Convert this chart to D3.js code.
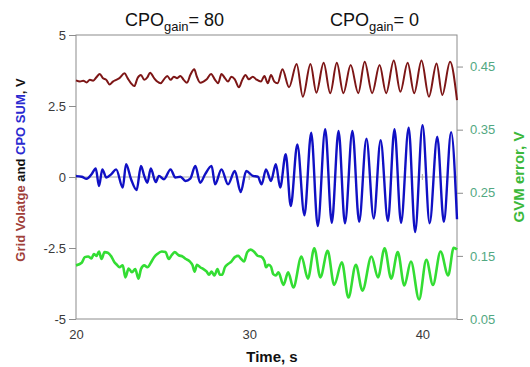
<!DOCTYPE html>
<html>
<head>
<meta charset="utf-8">
<script src="https://cdn.jsdelivr.net/npm/d3@7/dist/d3.min.js"></script>
<style>
  body { margin: 0; background: #fff; }
  svg { display: block; font-family: Arial, "Liberation Sans", sans-serif; }
</style>
</head>
<body>
<figure id="chart" style="margin:0"></figure>
<script>
// axis ticks
const timeTicks = [20, 30, 40]
const voltTicks = [-5, -2.5, 0, 2.5, 5]
const errorTicks = [0.05, 0.15, 0.25, 0.35, 0.45]

// [time s, grid voltage V]
const gridVoltage = [
  [20.00, 3.40], [20.23, 3.36], [20.42, 3.39], [20.61, 3.33], [20.80, 3.42], [20.99, 3.39],
  [21.18, 3.51], [21.37, 3.63], [21.56, 3.48], [21.75, 3.42], [21.94, 3.26], [22.13, 3.36],
  [22.32, 3.42], [22.51, 3.48], [22.80, 3.65], [22.98, 3.48], [23.18, 3.30], [23.37, 3.20],
  [23.55, 3.48], [23.75, 3.59], [23.94, 3.42], [24.12, 3.51], [24.28, 3.67], [24.51, 3.48],
  [24.69, 3.36], [24.89, 3.30], [25.08, 3.44], [25.27, 3.56], [25.46, 3.42], [25.65, 3.53],
  [25.84, 3.48], [26.03, 3.56], [26.22, 3.42], [26.41, 3.32], [26.60, 3.59], [26.83, 3.79],
  [26.98, 3.53], [27.17, 3.32], [27.36, 3.36], [27.55, 3.44], [27.80, 3.63], [28.03, 3.42],
  [28.21, 3.30], [28.40, 3.63], [28.60, 3.48], [28.78, 3.36], [28.97, 3.53], [29.17, 3.44],
  [29.41, 3.16], [29.60, 3.42], [29.79, 3.59], [29.98, 3.44], [30.21, 3.53], [30.40, 3.44],
  [30.68, 3.36], [30.88, 3.56], [31.07, 3.30], [31.26, 3.59], [31.45, 3.36], [31.64, 3.30],
  [31.92, 3.79], [32.30, 3.16], [32.74, 3.98], [33.10, 2.83], [33.54, 3.98], [33.88, 2.97],
  [34.30, 4.02], [34.68, 2.95], [35.06, 4.02], [35.44, 2.95], [35.86, 3.94], [36.30, 2.95],
  [36.67, 4.06], [37.10, 2.95], [37.53, 3.94], [37.91, 2.95], [38.35, 4.10], [38.73, 3.00],
  [39.15, 4.02], [39.53, 2.95], [39.95, 4.10], [40.38, 2.83], [40.82, 4.00], [41.15, 2.89],
  [41.60, 4.06], [42.00, 2.71]
]

// [time s, CPO sum V]
const cpoSum = [
  [20.00, 0.03], [20.33, 0.01], [20.61, -0.06], [20.90, 0.10], [21.14, 0.30], [21.33, -0.32],
  [21.52, 0.27], [21.75, -0.02], [22.04, 0.10], [22.32, 0.27], [22.70, -0.37], [22.89, 0.45],
  [23.18, -0.08], [23.50, -0.46], [23.75, 0.39], [23.94, 0.04], [24.12, -0.20], [24.32, 0.30],
  [24.60, -0.18], [24.79, 0.04], [25.08, -0.08], [25.46, 0.27], [25.74, -0.02], [26.03, 0.01],
  [26.32, -0.14], [26.60, -0.06], [26.89, 0.39], [27.17, -0.20], [27.46, 0.10], [27.83, 0.39],
  [28.03, -0.26], [28.40, 0.27], [28.78, -0.26], [29.17, 0.21], [29.51, -0.53], [29.83, 0.21],
  [30.21, 0.04], [30.50, 0.01], [30.72, -0.26], [30.97, 0.27], [31.26, -0.14], [31.54, 0.45],
  [31.79, -0.37], [32.11, 0.80], [32.40, -1.02], [32.78, 1.15], [33.19, -1.35], [33.58, 1.56],
  [33.96, -1.73], [34.39, 1.68], [34.77, -1.61], [35.16, 1.62], [35.53, -1.63], [35.96, 1.62],
  [36.35, -1.58], [36.77, 1.35], [37.19, -1.46], [37.59, 1.30], [38.01, -1.55], [38.39, 1.68],
  [38.77, -1.61], [39.21, 1.74], [39.58, -1.94], [40.01, 1.82], [40.42, -1.63], [40.86, 1.42],
  [41.24, -1.58], [41.66, 1.58], [42.00, -1.49]
]

// [time s, GVM error V] (right axis)
const gvmError = [
  [20.00, 0.135], [20.33, 0.139], [20.51, 0.148], [20.70, 0.149], [20.90, 0.146], [21.03, 0.153],
  [21.18, 0.150], [21.33, 0.157], [21.47, 0.145], [21.65, 0.156], [21.84, 0.155], [22.04, 0.149],
  [22.22, 0.140], [22.36, 0.136], [22.51, 0.132], [22.70, 0.135], [22.85, 0.116], [23.04, 0.130],
  [23.23, 0.124], [23.42, 0.129], [23.61, 0.114], [23.75, 0.129], [23.94, 0.135], [24.12, 0.132],
  [24.32, 0.139], [24.51, 0.148], [24.69, 0.153], [24.95, 0.157], [25.17, 0.156], [25.36, 0.145],
  [25.52, 0.151], [25.70, 0.156], [25.93, 0.151], [26.16, 0.149], [26.35, 0.145], [26.54, 0.142],
  [26.73, 0.135], [26.85, 0.125], [26.98, 0.136], [27.17, 0.132], [27.36, 0.129], [27.55, 0.125],
  [27.68, 0.120], [27.83, 0.125], [27.99, 0.119], [28.17, 0.129], [28.31, 0.120], [28.44, 0.120],
  [28.60, 0.132], [28.78, 0.137], [28.97, 0.141], [29.17, 0.148], [29.36, 0.150], [29.54, 0.145],
  [29.70, 0.141], [29.89, 0.156], [30.08, 0.160], [30.27, 0.157], [30.50, 0.150], [30.68, 0.149],
  [30.88, 0.142], [30.97, 0.132], [31.11, 0.136], [31.26, 0.133], [31.39, 0.121], [31.54, 0.119],
  [31.69, 0.124], [31.98, 0.104], [32.25, 0.124], [32.55, 0.100], [33.02, 0.149], [33.39, 0.114],
  [33.76, 0.162], [34.11, 0.116], [34.53, 0.158], [34.91, 0.104], [35.35, 0.140], [35.73, 0.084],
  [36.16, 0.136], [36.54, 0.095], [37.06, 0.149], [37.44, 0.116], [37.82, 0.162], [38.20, 0.114],
  [38.58, 0.156], [38.96, 0.103], [39.34, 0.141], [39.81, 0.081], [40.23, 0.144], [40.61, 0.104],
  [41.05, 0.157], [41.49, 0.119], [41.81, 0.163], [42.00, 0.160]
]

const margin = { top: 35, right: 73, bottom: 48, left: 76 }
const width = 530 - margin.left - margin.right
const height = 367 - margin.top - margin.bottom

const svg = d3.select('#chart')
  .append('svg')
  .attr('width', 530)
  .attr('height', 367)
const g = svg.append('g')
  .attr('transform', `translate(${margin.left}, ${margin.top})`)

// Scales
const x = d3.scaleLinear().domain([20, 42]).range([0, width])
const yLeft = d3.scaleLinear().domain([-5, 5]).range([height, 0])
const yRight = d3.scaleLinear().domain([0.05, 0.5]).range([height, 0])

// Axes
const leftAxis = g.append('g')
  .call(d3.axisLeft(yLeft).tickValues(voltTicks).tickSizeInner(7).tickSizeOuter(0)
    .tickPadding(3).tickFormat(d => String(d)))
const rightAxis = g.append('g')
  .attr('transform', `translate(${width}, 0)`)
  .call(d3.axisRight(yRight).tickValues(errorTicks).tickSizeInner(6).tickSizeOuter(0)
    .tickPadding(7).tickFormat(d3.format('.2f')))
const bottomAxis = g.append('g')
  .attr('transform', `translate(0, ${height})`)
  .call(d3.axisBottom(x).tickValues(timeTicks).tickSize(0).tickPadding(11))

for (const ax of [leftAxis, rightAxis, bottomAxis]) {
  ax.select('.domain').remove()
  ax.selectAll('line').attr('stroke', '#8c8c8c')
  ax.selectAll('text').attr('font-size', 13).attr('font-family', 'Arial, "Liberation Sans", sans-serif')
}
leftAxis.selectAll('text').attr('fill', '#3a3a3a')
bottomAxis.selectAll('text').attr('fill', '#3a3a3a')
rightAxis.selectAll('text').attr('fill', '#52a882')

// zero line with small cross ticks
g.append('line')
  .attr('x1', 0).attr('x2', width)
  .attr('y1', yLeft(0)).attr('y2', yLeft(0))
  .attr('stroke', '#a8a8a8')
g.selectAll('.zerotick')
  .data(timeTicks)
  .enter()
  .append('line')
  .attr('x1', d => x(d)).attr('x2', d => x(d))
  .attr('y1', yLeft(0) - 3).attr('y2', yLeft(0) + 3)
  .attr('stroke', '#a8a8a8')

// plot frame
g.append('rect')
  .attr('width', width).attr('height', height)
  .attr('fill', 'none')
  .attr('stroke', '#8c8c8c')

// Lines
const lineLeft = d3.line().x(d => x(d[0])).y(d => yLeft(d[1])).curve(d3.curveMonotoneX)
const lineRight = d3.line().x(d => x(d[0])).y(d => yRight(d[1])).curve(d3.curveMonotoneX)

g.append('path')
  .attr('d', lineRight(gvmError))
  .attr('fill', 'none')
  .attr('stroke', '#33dd33')
  .attr('stroke-width', 2.6)
  .attr('stroke-linejoin', 'round')

g.append('path')
  .attr('d', lineLeft(cpoSum))
  .attr('fill', 'none')
  .attr('stroke', '#1010c4')
  .attr('stroke-width', 2.4)
  .attr('stroke-linejoin', 'round')

g.append('path')
  .attr('d', lineLeft(gridVoltage))
  .attr('fill', 'none')
  .attr('stroke', '#7d1616')
  .attr('stroke-width', 2)
  .attr('stroke-linejoin', 'round')

// Axis titles
svg.append('text')
  .attr('x', 272).attr('y', 362)
  .attr('text-anchor', 'middle')
  .attr('font-size', 15).attr('font-weight', 'bold')
  .attr('fill', '#111')
  .text('Time, s')

const leftTitle = svg.append('text')
  .attr('transform', 'translate(25, 170) rotate(-90)')
  .attr('text-anchor', 'middle')
  .attr('font-size', 13).attr('font-weight', 'bold')
leftTitle.append('tspan').attr('fill', '#a0403a').text('Grid Volatge')
leftTitle.append('tspan').attr('fill', '#111').text(' and ')
leftTitle.append('tspan').attr('fill', '#2a2ad0').text('CPO SUM')
leftTitle.append('tspan').attr('fill', '#111').text(', V')

svg.append('text')
  .attr('transform', 'translate(524, 177) rotate(-90)')
  .attr('text-anchor', 'middle')
  .attr('font-size', 15).attr('font-weight', 'bold')
  .attr('fill', '#3cb83c')
  .text('GVM error, V')

// CPO gain annotations
const gains = [{ x: 125, value: '80' }, { x: 330, value: '0' }]
gains.forEach(a => {
  const t = svg.append('text')
    .attr('x', a.x).attr('y', 26)
    .attr('font-size', 18)
    .attr('fill', '#111')
  t.append('tspan').text('CPO')
  t.append('tspan').attr('font-size', 13).attr('dy', 5).text('gain')
  t.append('tspan').attr('dy', -5).text('= ' + a.value)
})
</script>
</body>
</html>
